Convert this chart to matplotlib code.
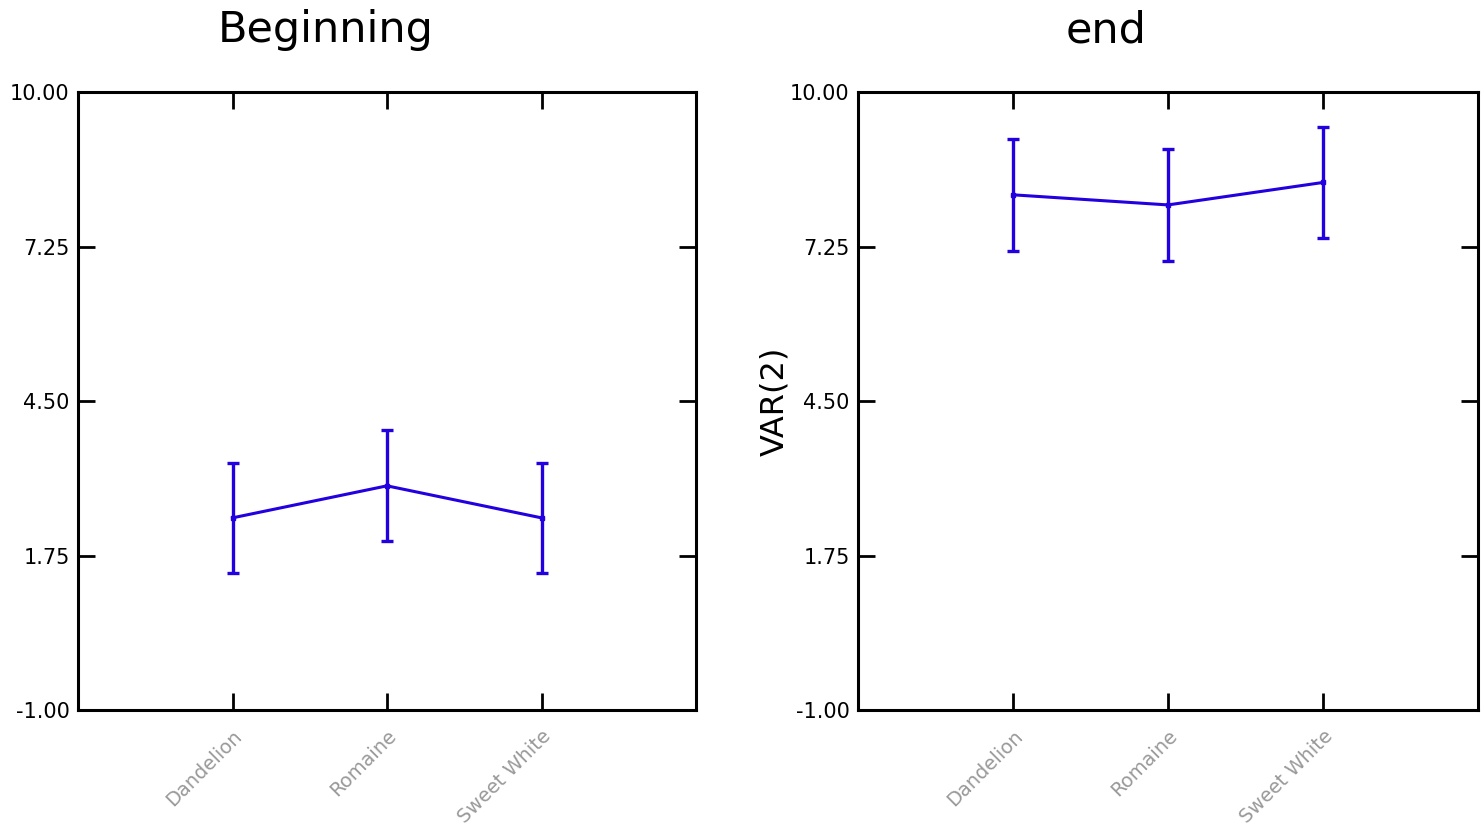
import matplotlib
matplotlib.use("Agg")
import matplotlib.pyplot as plt
from matplotlib.ticker import FormatStrFormatter

categories = ["Dandelion", "Romaine", "Sweet White"]
begin_means = [2.42, 2.99, 2.42]
begin_err = [0.98, 0.99, 0.98]
end_means = [8.17, 7.99, 8.39]
end_err = [1.00, 0.99, 0.99]
yticks = [-1.00, 1.75, 4.50, 7.25, 10.00]
titles = ["Beginning", "end"]
ylabel_right = "VAR(2)"

blue = "#2200e0"
fig = plt.figure(figsize=(14.81, 8.33), dpi=100)
axes = [fig.add_axes([78/1481, 123/833, 618/1481, 618/833]),
        fig.add_axes([858/1481, 123/833, 620/1481, 618/833])]

for ax, means, errs, title in zip(axes, [begin_means, end_means], [begin_err, end_err], titles):
    x = list(range(1, len(categories) + 1))
    ax.errorbar(x, means, yerr=errs, color=blue, lw=2.2, elinewidth=2.4,
                capsize=4, capthick=2.4, marker="s", ms=3)
    ax.set_xlim(0, 4)
    ax.set_ylim(-1, 10)
    ax.set_yticks(yticks)
    ax.yaxis.set_major_formatter(FormatStrFormatter("%.2f"))
    ax.set_xticks(x)
    ax.set_xticklabels(categories, rotation=45, ha="right", rotation_mode="anchor",
                       color="#999999", fontsize=14)
    ax.tick_params(axis="both", direction="in", length=12, width=2,
                   top=True, right=True)
    ax.tick_params(axis="y", labelsize=15, pad=6)
    ax.tick_params(axis="x", pad=12)
    for s in ax.spines.values():
        s.set_linewidth(2.2)
    ax.set_title(title, fontsize=31, x=0.40, pad=36)

axes[1].set_ylabel(ylabel_right, fontsize=23, labelpad=0)

fig.savefig("out.png", dpi=100)
